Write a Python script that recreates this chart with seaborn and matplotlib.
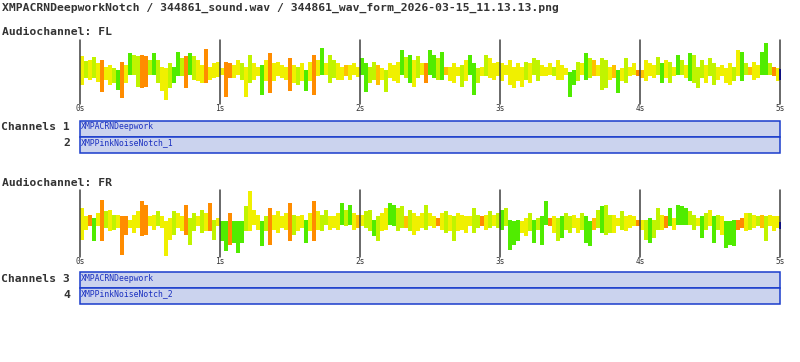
import pandas as pd
import matplotlib
matplotlib.use("Agg")
import matplotlib.pyplot as plt
from matplotlib.patches import Rectangle
import seaborn as sns

# waveform: 35 bars per second, levels above / below centre
# colour classes: y=yellow, l=lime, g=green, a=amber, o=orange
fl_top = [17, 12, 13, 16, 10, 13, 6, 8, 5, 3, 11, 8, 20, 18, 17, 18, 17, 13, 20, 13, 6, 5, 10, 6, 21, 15, 17, 20, 17, 13, 8, 24, 6, 10, 11,
          5, 11, 10, 8, 13, 10, 6, 18, 10, 6, 8, 13, 20, 10, 11, 8, 6, 15, 8, 6, 10, 3, 11, 18, 13, 25, 10, 18, 13, 10, 6, 8, 8, 10, 6,
          15, 10, 6, 11, 8, 5, 3, 10, 8, 11, 23, 16, 18, 13, 17, 10, 10, 23, 18, 15, 21, 6, 6, 10, 6, 8, 13, 18, 10, 5, 6, 18, 15, 10, 11,
          10, 8, 13, 6, 10, 6, 11, 10, 15, 13, 8, 6, 10, 6, 13, 8, 5, 1, 3, 11, 10, 20, 15, 13, 8, 15, 13, 6, 8, 3, 5, 15, 6, 10, 3,
          3, 13, 10, 8, 16, 10, 13, 11, 6, 18, 13, 8, 20, 18, 6, 13, 8, 15, 10, 6, 8, 5, 10, 6, 23, 21, 10, 6, 11, 8, 21, 30, 10, 6, 5]
fl_bot = [12, 5, 7, 5, 9, 19, 7, 12, 10, 17, 25, 10, 2, 2, 14, 15, 14, 2, 2, 10, 18, 27, 15, 10, 3, 3, 15, 2, 7, 8, 10, 10, 7, 5, 4,
          2, 24, 5, 5, 2, 7, 24, 10, 7, 3, 22, 8, 20, 8, 3, 5, 7, 18, 10, 12, 8, 18, 8, 22, 3, 2, 2, 10, 5, 7, 7, 3, 7, 2, 4,
          2, 19, 10, 7, 12, 7, 19, 5, 8, 10, 2, 5, 10, 14, 5, 2, 10, 2, 5, 7, 7, 2, 8, 10, 3, 14, 8, 2, 22, 10, 3, 3, 5, 7, 3,
          8, 2, 12, 15, 8, 14, 7, 10, 2, 8, 3, 3, 2, 3, 7, 7, 2, 24, 12, 8, 2, 7, 5, 3, 3, 17, 15, 7, 5, 20, 8, 10, 3, 2, 3,
          5, 8, 3, 5, 2, 10, 5, 10, 3, 2, 2, 5, 8, 10, 15, 5, 10, 3, 12, 7, 3, 10, 12, 8, 3, 8, 2, 2, 7, 5, 2, 2, 2, 3, 8]
fl_col = list("ylyly" "oyylg" "oygll" "oolgl" "yylgg" "logly" "yoyyy"
              "yooyy" "lylyy" "gyoyy" "yyoyl" "ygyoy" "gylly" "yayyy"
              "gglla" "ylyyy" "glgyl" "yoggl" "gayyy" "lyggl" "ylyyy"
              "yyyyy" "ylyll" "yyyly" "yyggl" "yglay" "llyag" "ylyyo"
              "ayyyl" "gylyg" "lygll" "lylly" "yyyly" "glayy" "ggloy")
fl_end = [4, 7]

fr_top = [15, 7, 8, 5, 10, 23, 12, 13, 8, 8, 7, 7, 3, 8, 12, 22, 18, 7, 8, 12, 7, 2, 5, 12, 10, 7, 18, 5, 10, 7, 13, 10, 20, 3, 5,
          2, 2, 10, 2, 2, 2, 17, 32, 13, 8, 2, 7, 15, 8, 12, 7, 10, 20, 8, 7, 8, 3, 10, 22, 12, 8, 13, 7, 7, 10, 20, 13, 18, 10, 8,
          8, 12, 13, 3, 7, 10, 15, 20, 18, 15, 17, 7, 13, 10, 7, 10, 18, 10, 7, 5, 10, 12, 8, 7, 10, 8, 7, 7, 15, 8, 7, 8, 12, 8, 10,
          13, 15, 3, 2, 3, 2, 5, 10, 3, 5, 7, 22, 5, 7, 5, 7, 10, 7, 8, 5, 10, 7, 2, 5, 13, 17, 18, 8, 8, 5, 12, 7, 8, 7, 3,
          3, 3, 5, 3, 15, 8, 7, 15, 5, 18, 17, 15, 12, 8, 5, 7, 10, 13, 7, 8, 7, 2, 2, 3, 3, 5, 10, 10, 8, 7, 8, 7, 8, 7, 7]
fr_bot = [17, 7, 3, 18, 3, 18, 5, 8, 7, 5, 32, 12, 5, 10, 5, 13, 12, 3, 7, 3, 5, 33, 17, 12, 5, 8, 12, 22, 8, 3, 10, 8, 8, 17, 3,
          18, 28, 22, 20, 30, 20, 8, 8, 2, 7, 23, 8, 22, 7, 10, 5, 7, 18, 12, 8, 5, 20, 8, 18, 7, 8, 2, 7, 5, 7, 2, 3, 2, 7, 5,
          3, 5, 8, 13, 18, 8, 7, 2, 3, 8, 5, 5, 8, 12, 8, 5, 7, 3, 5, 3, 7, 10, 8, 18, 8, 7, 10, 3, 10, 5, 3, 7, 5, 3, 5,
          7, 3, 27, 22, 18, 10, 13, 8, 20, 7, 22, 2, 3, 10, 18, 15, 7, 10, 5, 10, 7, 20, 23, 7, 5, 10, 12, 10, 10, 3, 7, 8, 5, 3, 3,
          7, 17, 20, 15, 7, 7, 5, 3, 7, 2, 2, 2, 2, 7, 3, 15, 7, 3, 20, 7, 12, 25, 22, 23, 7, 5, 8, 7, 5, 3, 5, 18, 3, 8, 5]
fr_col = list("yyogy" "olyly" "ooyyy" "ooyyl" "yyyly" "yolly" "lyoly"
              "ggogg" "glyyy" "gloyy" "yyoly" "ygyoy" "llyyy" "glgya"
              "yllgl" "yyggl" "lalyy" "ylyyo" "ylyly" "yyyll" "oylyl"
              "glggg" "yylgl" "ggoyl" "gllyy" "lggal" "gllyy" "lyyyo"
              "ylgll" "yogyg" "gglly" "glygl" "ygggo" "oylyl" "alyyy")
fr_end = [1, 6]

seconds = [0, 1, 2, 3, 4, 5]
sec_labels = ["0s", "1s", "2s", "3s", "4s", "5s"]
bars_per_second = 35
channel_groups = [["XMPACRNDeepwork", "XMPPinkNoiseNotch_1"],
                  ["XMPACRNDeepwork", "XMPPinkNoiseNotch_2"]]
channel_numbers = [["1", "2"], ["3", "4"]]
audio_names = ["Audiochannel: FL", "Audiochannel: FR"]
title = "XMPACRNDeepworkNotch / 344861_sound.wav / 344861_wav_form_2026-03-15_11.13.13.png"

palette = {"y": "#f0f000", "l": "#c0f400", "g": "#50ec00", "a": "#ffc000", "o": "#ff8c00"}

sns.set_theme(style='white', rc={'figure.figsize': (8, 3.62)})
plt.rcParams['font.family'] = ['DejaVu Sans Mono', 'DejaVu Sans']

W, H = 800, 362
fig = plt.figure(figsize=(8, 3.62), dpi=100)
fig.patch.set_facecolor('white')


def py(p):
    return 1 - p / H


fig.text(2 / W, py(8), title, fontsize=8.2, weight='bold', color='#333333', va='center', ha='left')


def wave(top, bot, cols, end, y0, y1, ylim):
    ax = fig.add_axes([80 / W, py(y1), 700 / W, (y1 - y0) / H])
    df = pd.DataFrame({'t': [(i + 0.5) / bars_per_second for i in range(len(top))],
                       'top': top, 'bot': [-b for b in bot], 'col': cols})
    for col in ['top', 'bot']:
        sns.barplot(data=df, x='t', y=col, hue='col', palette=palette, native_scale=True,
                    width=1, dodge=False, legend=False, linewidth=0, errorbar=None,
                    saturation=1, ax=ax)
    ax.bar([seconds[-1]], [end[0] + end[1]], bottom=-end[1], width=0.012,
           color='#101080', linewidth=0, clip_on=False, zorder=4)
    for s in seconds:
        ax.axvline(s, color='#404040', lw=1.1, zorder=3, clip_on=False)
    ax.set_xlim(seconds[0], seconds[-1])
    ax.set_ylim(*ylim)
    ax.axis('off')
    for s, lab in zip(seconds, sec_labels):
        fig.text((80 + 140 * s) / W, py(y1 + 4.5), lab, fontsize=5.6, color='#333333',
                 ha='center', va='center')


def channel_box(names, nums, y0):
    ax = fig.add_axes([80 / W, py(y0 + 32), 700 / W, 32 / H])
    ax.set_xlim(0, 1)
    ax.set_ylim(2, 0)
    ax.axis('off')
    for k, (name, num) in enumerate(zip(names, nums)):
        ax.add_patch(Rectangle((0, k), 1, 1, facecolor='#cbd3ee', edgecolor='#1a3ccc', lw=1.1, clip_on=False))
        ax.text(0.002, k + 0.38, name, fontsize=5.9, color='#1a30c0', ha='left', va='center')
        lab = ("Channels " + num) if k == 0 else num
        fig.text(70 / W, py(y0 + 7 + 16 * k), lab, fontsize=8.2, weight='bold', color='#333333',
                 ha='right', va='center')


fig.text(2 / W, py(32), audio_names[0], fontsize=8.2, weight='bold', color='#333333', va='center', ha='left')
wave(fl_top, fl_bot, fl_col, fl_end, 40, 104, (-31, 33))
channel_box(channel_groups[0], channel_numbers[0], 120.5)

fig.text(2 / W, py(183), audio_names[1], fontsize=8.2, weight='bold', color='#333333', va='center', ha='left')
wave(fr_top, fr_bot, fr_col, fr_end, 190, 257, (-34, 33))
channel_box(channel_groups[1], channel_numbers[1], 272)

fig.savefig('out.png', dpi=100, facecolor='white')
